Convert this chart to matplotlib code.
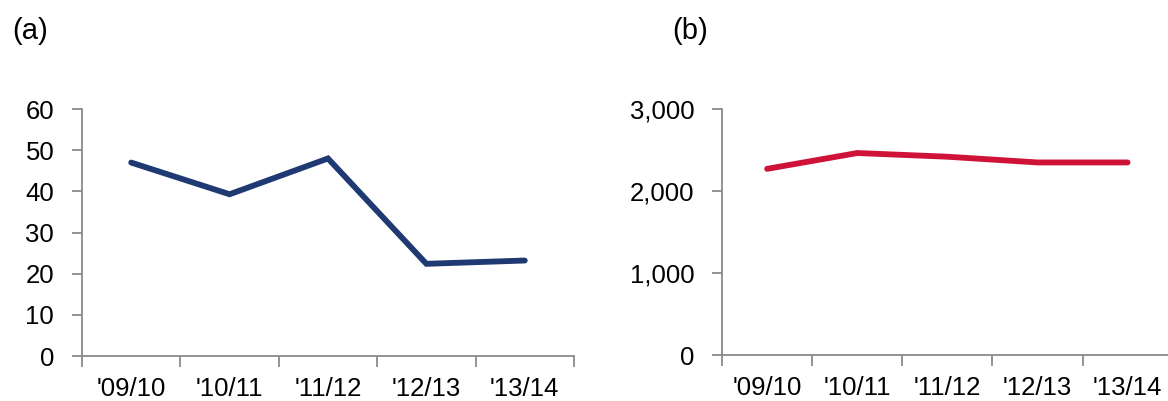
import numpy as np
import matplotlib
matplotlib.use('Agg')
import matplotlib.pyplot as plt
from matplotlib.ticker import FuncFormatter

plt.rcParams['font.family'] = ['Liberation Sans', 'DejaVu Sans']

# data
seasons = ["'09/10", "'10/11", "'11/12", "'12/13", "'13/14"]
values_a = [47.0, 39.3, 48.0, 22.4, 23.2]
values_b = [2272, 2465, 2420, 2350, 2350]

navy = '#1f3a72'
red = '#cf1238'
axis_grey = '#8a8a8a'
tick_size = 18.5

fig = plt.figure(figsize=(11.68, 4.01), dpi=100)
ax_a = fig.add_axes([0.0702, 0.1122, 0.4212, 0.6158])
ax_b = fig.add_axes([0.6182, 0.1147, 0.3858, 0.6130])


def style_axis(ax, ymax, step, fmt):
    x = np.arange(len(seasons))
    ax.set_xlim(-0.5, len(seasons) - 0.5)
    ax.set_ylim(0, ymax)
    ax.set_yticks(np.arange(0, ymax + step, step))
    ax.yaxis.set_major_formatter(FuncFormatter(fmt))
    # boundary ticks, labels centred between them
    ax.set_xticks(np.arange(-0.5, len(seasons), 1.0))
    ax.set_xticklabels([])
    ax.set_xticks(x, minor=True)
    ax.set_xticklabels(seasons, minor=True)
    ax.tick_params(axis='x', which='major', length=8, width=1.3, color=axis_grey)
    ax.tick_params(axis='x', which='minor', length=0, pad=15, labelsize=tick_size)
    ax.tick_params(axis='y', length=7, width=1.3, color=axis_grey, pad=13, labelsize=tick_size)
    for side in ['top', 'right']:
        ax.spines[side].set_visible(False)
    for side in ['left', 'bottom']:
        ax.spines[side].set_color(axis_grey)
        ax.spines[side].set_linewidth(1.3)
    ax.set_facecolor('none')
    return x


x = style_axis(ax_a, 60, 10, lambda v, p: f'{v:.0f}')
ax_a.plot(x, values_a, color=navy, lw=4.2, solid_capstyle='round', solid_joinstyle='miter', clip_on=False)

x = style_axis(ax_b, 3000, 1000, lambda v, p: f'{v:,.0f}')
ax_b.plot(x, values_b, color=red, lw=4.2, solid_capstyle='round', solid_joinstyle='miter', clip_on=False)

fig.text(12 / 1168, 1 - 31 / 401, '(a)', fontsize=21, ha='left', va='center')
fig.text(672 / 1168, 1 - 31 / 401, '(b)', fontsize=21, ha='left', va='center')

fig.savefig('out.png', dpi=100)
